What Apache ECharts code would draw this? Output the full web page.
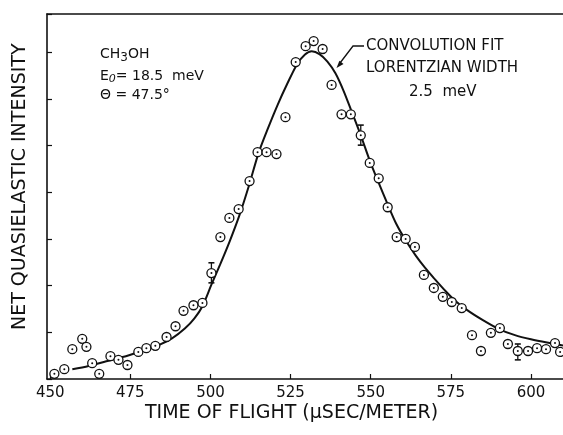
<!DOCTYPE html>
<html>
<head>
    <meta charset="utf-8">
    <title>Net quasielastic intensity vs time of flight</title>
    <script src="https://cdn.jsdelivr.net/npm/echarts@6.0.0/dist/echarts.min.js"></script>
    <style>
        html, body { margin: 0; padding: 0; background: #fff; }
    </style>
</head>
<body>
    <div id="main" style="width:563px;height:435px;"></div>
    <script type="text/javascript">
        // measured points (time of flight, intensity in tick units)
        var tof = [451.3, 454.4, 456.9, 460.0, 461.3, 463.1, 465.3, 468.8, 471.3, 474.1,
            477.5, 480.0, 482.8, 486.3, 489.1, 491.6, 494.7, 497.5, 500.3, 503.1,
            505.9, 508.8, 512.2, 514.7, 517.5, 520.6, 523.4, 526.6, 529.7, 532.2,
            535.0, 537.8, 540.9, 543.8, 546.9, 549.7, 552.5, 555.3, 558.1, 560.9,
            563.8, 566.6, 569.7, 572.5, 575.3, 578.4, 581.6, 584.4, 587.5, 590.3,
            592.8, 595.9, 599.1, 601.9, 604.7, 607.5, 609.1];
        var intensity = [0.11, 0.21, 0.64, 0.86, 0.69, 0.34, 0.11, 0.49, 0.41, 0.30,
            0.58, 0.66, 0.71, 0.90, 1.13, 1.46, 1.58, 1.63, 2.27, 3.04,
            3.45, 3.64, 4.24, 4.86, 4.86, 4.82, 5.61, 6.79, 7.13, 7.24,
            7.07, 6.30, 5.67, 5.67, 5.22, 4.63, 4.30, 3.68, 3.04, 3.00,
            2.83, 2.23, 1.95, 1.76, 1.65, 1.52, 0.94, 0.60, 0.99, 1.09,
            0.75, 0.60, 0.60, 0.66, 0.64, 0.77, 0.58];

        // error bars
        var errTof = [500.3, 546.9, 595.9];
        var errLow = [2.06, 5.01, 0.41];
        var errHigh = [2.49, 5.44, 0.75];

        // convolution fit curve
        var fitTof = [456.9, 462.0, 467.5, 472.6, 477.8, 483.0, 488.0, 492.0, 495.0, 497.5,
            500.3, 503.0, 506.0, 509.0, 512.0, 515.0, 518.0, 521.0, 524.0, 527.0,
            529.5, 531.6, 534.0, 536.5, 539.0, 541.5, 544.0, 546.9, 549.7, 552.5,
            555.3, 558.0, 561.0, 564.0, 567.0, 570.0, 573.0, 576.0, 580.0, 585.0,
            590.0, 595.0, 600.0, 605.0, 610.0];
        var fitVal = [0.21, 0.28, 0.38, 0.47, 0.58, 0.70, 0.87, 1.08, 1.30, 1.56,
            2.02, 2.45, 2.95, 3.50, 4.14, 4.84, 5.38, 5.88, 6.33, 6.74,
            6.95, 7.02, 6.96, 6.80, 6.55, 6.18, 5.74, 5.22, 4.68, 4.20,
            3.74, 3.32, 2.96, 2.65, 2.38, 2.14, 1.91, 1.70, 1.48, 1.26,
            1.07, 0.94, 0.85, 0.78, 0.72];

        var xTicks = [450, 475, 500, 525, 550, 575, 600];

        var points = tof.map(function (t, i) { return [t, intensity[i]]; });
        var fit = fitTof.map(function (t, i) { return [t, fitVal[i]]; });
        var errs = errTof.map(function (t, i) { return [t, errLow[i], errHigh[i]]; });

        var ink = '#111';
        var font = 'DejaVu Sans';

        var myChart = echarts.init(document.getElementById('main'));

        var option = {
            backgroundColor: '#fff',
            animation: false,
            grid: { left: 47, right: 0, top: 14, bottom: 56, outerBoundsMode: 'none' },
            xAxis: [{
                type: 'value',
                min: 449,
                max: 610,
                splitLine: { show: false },
                axisLine: { lineStyle: { color: ink, width: 1.6 } },
                axisTick: { inside: true, length: 5, customValues: xTicks, lineStyle: { color: ink, width: 1.2 } },
                axisLabel: { customValues: xTicks, color: ink, fontFamily: font, fontSize: 15, margin: 7 }
            }, {
                type: 'value',
                position: 'top',
                min: 449,
                max: 610,
                splitLine: { show: false },
                axisLine: { lineStyle: { color: ink, width: 1.6 } },
                axisTick: { show: false },
                axisLabel: { show: false }
            }],
            yAxis: {
                type: 'value',
                min: 0,
                max: 7.82,
                interval: 1,
                splitLine: { show: false },
                axisLine: { show: true, lineStyle: { color: ink, width: 1.6 } },
                axisTick: { show: true, inside: true, length: 5, lineStyle: { color: ink, width: 1.2 } },
                axisLabel: { show: false }
            },
            graphic: [{
                type: 'text', x: 145, y: 404, z: 10,
                style: { text: 'TIME OF FLIGHT (\u03bcSEC/METER)', fill: ink, font: '19px "DejaVu Sans"' }
            }, {
                type: 'text', x: 11, y: 330, rotation: Math.PI / 2, z: 10,
                style: { text: 'NET QUASIELASTIC INTENSITY', fill: ink, font: '19px "DejaVu Sans"' }
            }, {
                type: 'text', x: 100, y: 45, z: 10,
                style: {
                    text: 'CH{s|3}OH', fill: ink, font: '14px "DejaVu Sans"',
                    rich: { s: { fontSize: 12, fontFamily: font, fill: ink, padding: [7, 0, 0, 0] } }
                }
            }, {
                type: 'text', x: 100, y: 68, z: 10,
                style: {
                    text: 'E{s|0}= 18.5  meV', fill: ink, font: '14px "DejaVu Sans"',
                    rich: { s: { fontSize: 11, fontStyle: 'italic', fontFamily: font, fill: ink, padding: [6, 0, 0, 0] } }
                }
            }, {
                type: 'text', x: 100, y: 88, z: 10,
                style: { text: '\u0398 = 47.5\u00b0', fill: ink, font: '14px "DejaVu Sans"' }
            }, {
                type: 'text', x: 366, y: 39, z: 10,
                style: { text: 'CONVOLUTION FIT', fill: ink, font: '15px "DejaVu Sans"' }
            }, {
                type: 'text', x: 366, y: 61, z: 10,
                style: { text: 'LORENTZIAN WIDTH', fill: ink, font: '15px "DejaVu Sans"' }
            }, {
                type: 'text', x: 409, y: 85, z: 10,
                style: { text: '2.5  meV', fill: ink, font: '15px "DejaVu Sans"' }
            }, {
                type: 'polyline', z: 10,
                shape: { points: [[364, 46], [353, 46], [340, 63]] },
                style: { stroke: ink, lineWidth: 1.3, fill: null }
            }, {
                type: 'polygon', z: 10,
                shape: { points: [[336.5, 68], [343.5, 64], [339.4, 60.8]] },
                style: { fill: ink }
            }],
            series: [{
                name: 'Convolution fit',
                type: 'line',
                data: fit,
                smooth: 0.3,
                showSymbol: false,
                lineStyle: { color: ink, width: 2 },
                z: 2
            }, {
                name: 'Error',
                type: 'custom',
                data: errs,
                renderItem: function (params, api) {
                    var lo = api.coord([api.value(0), api.value(1)]);
                    var hi = api.coord([api.value(0), api.value(2)]);
                    var c = 3;
                    return {
                        type: 'group',
                        children: [
                            { type: 'line', shape: { x1: lo[0], y1: lo[1], x2: hi[0], y2: hi[1] }, style: { stroke: ink, lineWidth: 1.3 } },
                            { type: 'line', shape: { x1: lo[0] - c, y1: lo[1], x2: lo[0] + c, y2: lo[1] }, style: { stroke: ink, lineWidth: 1.6 } },
                            { type: 'line', shape: { x1: hi[0] - c, y1: hi[1], x2: hi[0] + c, y2: hi[1] }, style: { stroke: ink, lineWidth: 1.6 } }
                        ]
                    };
                },
                z: 3
            }, {
                name: 'Data',
                type: 'scatter',
                data: points,
                symbol: 'circle',
                symbolSize: 9,
                itemStyle: { color: '#fff', borderColor: ink, borderWidth: 1.3, opacity: 1 },
                z: 4
            }, {
                name: 'Data centre',
                type: 'scatter',
                data: points,
                symbol: 'circle',
                symbolSize: 2,
                itemStyle: { color: ink, opacity: 1 },
                z: 5
            }]
        };

        myChart.setOption(option);
    </script>
</body>
</html>
